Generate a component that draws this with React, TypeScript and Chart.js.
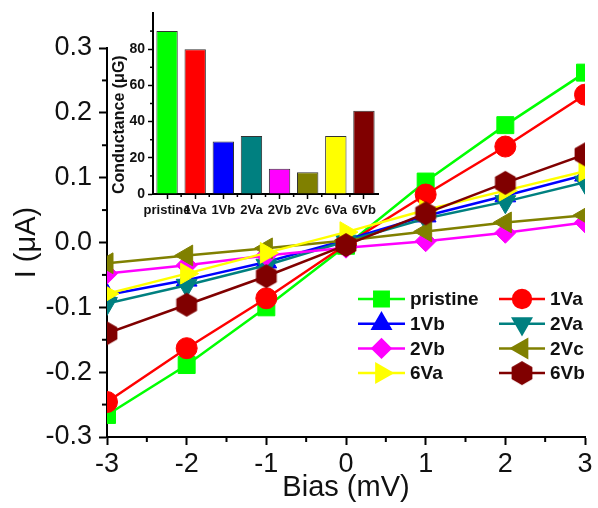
import React, { useEffect, useRef } from 'react';
import { Chart, registerables } from 'chart.js';
import { drawPoint } from 'chart.js/helpers';

Chart.register(...registerables);

// ---------- data ----------
const biasValues = [-3, -2, -1, 0, 1, 2, 3];
const seriesNames = ['pristine', '1Va', '1Vb', '2Va', '2Vb', '2Vc', '6Va', '6Vb'];
const pristine = [-0.266, -0.189, -0.1, -0.005, 0.094, 0.181, 0.262];
const s1Va = [-0.246, -0.163, -0.086, -0.003, 0.074, 0.148, 0.228];
const s1Vb = [-0.081, -0.058, -0.03, 0.004, 0.041, 0.072, 0.104];
const s2Va = [-0.094, -0.066, -0.035, 0.002, 0.037, 0.063, 0.093];
const s2Vb = [-0.048, -0.035, -0.02, -0.008, 0.002, 0.015, 0.031];
const s2Vc = [-0.032, -0.02, -0.009, 0.003, 0.017, 0.031, 0.042];
const s6Va = [-0.079, -0.048, -0.016, 0.016, 0.05, 0.08, 0.11];
const s6Vb = [-0.14, -0.096, -0.052, -0.004, 0.045, 0.092, 0.136];
const seriesValues = [pristine, s1Va, s1Vb, s2Va, s2Vb, s2Vc, s6Va, s6Vb];

const conductanceValues = [90, 80, 29, 32, 14, 12, 32, 46];
const insetYTicks = [0, 20, 40, 60, 80];
const insetYMinor = [10, 30, 50, 70, 90];
const mainXMinor = [-2.5, -1.5, -0.5, 0.5, 1.5, 2.5];
const mainYMinor = [-0.25, -0.15, -0.05, 0.05, 0.15, 0.25];

// ---------- styles ----------
const colors = ['#00ff00', '#ff0000', '#0000ff', '#008080', '#ff00ff', '#808000', '#ffff00', '#800000'];
const FONT = "'Liberation Sans', Arial, sans-serif";

function makeHexagon(color: string, r: number): HTMLCanvasElement {
  const c = document.createElement('canvas');
  const w = Math.ceil(r * 2 + 2);
  c.width = w;
  c.height = w;
  const ctx = c.getContext('2d')!;
  ctx.fillStyle = color;
  ctx.beginPath();
  for (let i = 0; i < 6; i++) {
    const a = Math.PI / 2 + (i * Math.PI) / 3;
    const x = w / 2 + r * Math.cos(a);
    const y = w / 2 - r * Math.sin(a);
    if (i === 0) ctx.moveTo(x, y);
    else ctx.lineTo(x, y);
  }
  ctx.closePath();
  ctx.fill();
  return c;
}

function markerStyles() {
  const hex = makeHexagon(colors[7], 12);
  return [
    { pointStyle: 'rect', rotation: 0, radius: 12 },
    { pointStyle: 'circle', rotation: 0, radius: 10.5 },
    { pointStyle: 'triangle', rotation: 0, radius: 12 },
    { pointStyle: 'triangle', rotation: 180, radius: 12 },
    { pointStyle: 'rectRot', rotation: 0, radius: 10.5 },
    { pointStyle: 'triangle', rotation: -90, radius: 12 },
    { pointStyle: 'triangle', rotation: 90, radius: 12 },
    { pointStyle: hex as any, rotation: 0, radius: 12 },
  ];
}

function minorTicksPlugin(cfg: { x?: number[]; y?: number[]; len: number; width: number }) {
  return {
    id: 'minorTicksCustom',
    afterDraw(chart: any) {
      const ctx = chart.ctx;
      ctx.save();
      ctx.strokeStyle = '#000';
      ctx.lineWidth = cfg.width;
      const xs = chart.scales.x;
      const ys = chart.scales.y;
      if (cfg.x && xs) {
        for (const v of cfg.x) {
          const px = xs.getPixelForValue(v);
          ctx.beginPath();
          ctx.moveTo(px, xs.top);
          ctx.lineTo(px, xs.top + cfg.len);
          ctx.stroke();
        }
      }
      if (cfg.y && ys) {
        for (const v of cfg.y) {
          const py = ys.getPixelForValue(v);
          ctx.beginPath();
          ctx.moveTo(ys.right, py);
          ctx.lineTo(ys.right - cfg.len, py);
          ctx.stroke();
        }
      }
      ctx.restore();
    },
  };
}

function legendPlugin(markers: any[]) {
  return {
    id: 'customLegend',
    afterDraw(chart: any) {
      const ctx = chart.ctx;
      ctx.save();
      const cols = [
        { x1: 358, x2: 405, tx: 410 },
        { x1: 499, x2: 545, tx: 550 },
      ];
      seriesNames.forEach((name, i) => {
        const col = cols[i % 2];
        const row = Math.floor(i / 2);
        const y = 299 + row * 24.7;
        ctx.strokeStyle = colors[i];
        ctx.lineWidth = 2.5;
        ctx.beginPath();
        ctx.moveTo(col.x1, y);
        ctx.lineTo(col.x2, y);
        ctx.stroke();
        const m = markers[i];
        ctx.fillStyle = colors[i];
        ctx.strokeStyle = colors[i];
        drawPoint(ctx, { pointStyle: m.pointStyle, rotation: m.rotation, radius: m.radius * 0.85, borderWidth: 1 }, (col.x1 + col.x2) / 2, y);
        ctx.fillStyle = '#111';
        ctx.font = `bold 19px ${FONT}`;
        ctx.textAlign = 'left';
        ctx.textBaseline = 'middle';
        ctx.fillText(name, col.tx, y + 1);
      });
      ctx.restore();
    },
  };
}

function MainChart() {
  const ref = useRef<HTMLCanvasElement>(null);
  useEffect(() => {
    const markers = markerStyles();
    const datasets = seriesNames.map((name, i) => ({
      label: name,
      data: biasValues.map((x, j) => ({ x, y: seriesValues[i][j] })),
      borderColor: colors[i],
      backgroundColor: colors[i],
      borderWidth: 2.5,
      pointStyle: markers[i].pointStyle,
      pointRotation: markers[i].rotation,
      pointRadius: markers[i].radius,
      pointBorderWidth: 1,
      pointBorderColor: colors[i],
      pointBackgroundColor: colors[i],
      order: seriesNames.length - i,
      tension: 0,
    }));
    const chart = new Chart(ref.current!, {
      type: 'line',
      data: { datasets },
      options: {
        animation: false,
        responsive: false,
        devicePixelRatio: 1,
        layout: { padding: { top: 48, right: 7, left: 0, bottom: 0 } },
        plugins: { legend: { display: false }, tooltip: { enabled: false } },
        scales: {
          x: {
            type: 'linear',
            min: -3,
            max: 3,
            afterFit: (s: any) => { s.height = 71; },
            ticks: {
              stepSize: 1,
              padding: 3,
              color: '#111',
              font: { family: FONT, size: 27 },
              callback: (v: any) => String(Math.round(Number(v))),
            },
            grid: { drawOnChartArea: false, drawTicks: true, tickLength: 8, tickColor: '#000', tickWidth: 2 },
            border: { display: true, color: '#000', width: 2 },
            title: { display: true, text: 'Bias (mV)', color: '#111', font: { family: FONT, size: 29 }, padding: { top: 0, bottom: 3 } },
          },
          y: {
            type: 'linear',
            min: -0.3,
            max: 0.3,
            afterFit: (s: any) => { s.width = 107; },
            ticks: {
              stepSize: 0.1,
              padding: 7,
              color: '#111',
              font: { family: FONT, size: 27 },
              callback: (v: any) => (Math.abs(Number(v)) < 1e-9 ? '0.0' : Number(v).toFixed(1)),
            },
            grid: { drawOnChartArea: false, drawTicks: true, tickLength: 8, tickColor: '#000', tickWidth: 2 },
            border: { display: true, color: '#000', width: 2 },
            title: { display: true, text: 'I (\u03bcA)', color: '#111', font: { family: FONT, size: 29 }, padding: { top: 10, bottom: 0 } },
          },
        },
      },
      plugins: [minorTicksPlugin({ x: mainXMinor, y: mainYMinor, len: 5, width: 2 }), legendPlugin(markers)],
    } as any);
    return () => chart.destroy();
  }, []);
  return <canvas ref={ref} width={598} height={508} style={{ position: 'absolute', left: 0, top: 0, width: 598, height: 508 }} />;
}

function InsetChart() {
  const ref = useRef<HTMLCanvasElement>(null);
  useEffect(() => {
    const chart = new Chart(ref.current!, {
      type: 'bar',
      data: {
        labels: seriesNames,
        datasets: [
          {
            data: conductanceValues,
            backgroundColor: colors,
            borderColor: '#333',
            borderWidth: 1,
            barPercentage: 0.76,
            categoryPercentage: 1,
          },
        ],
      },
      options: {
        animation: false,
        responsive: false,
        devicePixelRatio: 1,
        layout: { padding: { top: 13, right: 7, left: 0, bottom: 0 } },
        plugins: { legend: { display: false }, tooltip: { enabled: false } },
        scales: {
          x: {
            type: 'category',
            afterFit: (s: any) => { s.height = 36; },
            ticks: {
              autoSkip: false,
              maxRotation: 0,
              minRotation: 0,
              padding: 4,
              color: '#111',
              font: { family: FONT, size: 13, weight: 'bold' },
            },
            grid: { offset: false, drawOnChartArea: false, drawTicks: true, tickLength: 5, tickColor: '#000', tickWidth: 1.5 },
            border: { display: true, color: '#000', width: 2 },
          },
          y: {
            type: 'linear',
            min: 0,
            max: 100,
            afterFit: (s: any) => { s.width = 48; },
            afterBuildTicks: (s: any) => { s.ticks = insetYTicks.map((v) => ({ value: v })); },
            ticks: {
              padding: 3,
              color: '#111',
              font: { family: FONT, size: 14, weight: 'bold' },
            },
            grid: { drawOnChartArea: false, drawTicks: true, tickLength: 5, tickColor: '#000', tickWidth: 1.5 },
            border: { display: true, color: '#000', width: 2 },
            title: {
              display: true,
              text: 'Conductance (\u03bcG)',
              align: 'start',
              color: '#111',
              font: { family: FONT, size: 16, weight: 'bold' },
              padding: { top: 5, bottom: 0 },
            },
          },
        },
      },
      plugins: [minorTicksPlugin({ y: insetYMinor, x: [0.5, 1.5, 2.5, 3.5, 4.5, 5.5, 6.5], len: 3, width: 1.5 })],
    } as any);
    return () => chart.destroy();
  }, []);
  return <canvas ref={ref} width={280} height={230} style={{ position: 'absolute', left: 105, top: 0, width: 280, height: 230, pointerEvents: 'none' }} />;
}

export default function App() {
  return (
    <div style={{ position: 'fixed', left: 0, top: 0, width: 598, height: 508, background: '#fff', overflow: 'hidden' }}>
      <MainChart />
      <InsetChart />
    </div>
  );
}
